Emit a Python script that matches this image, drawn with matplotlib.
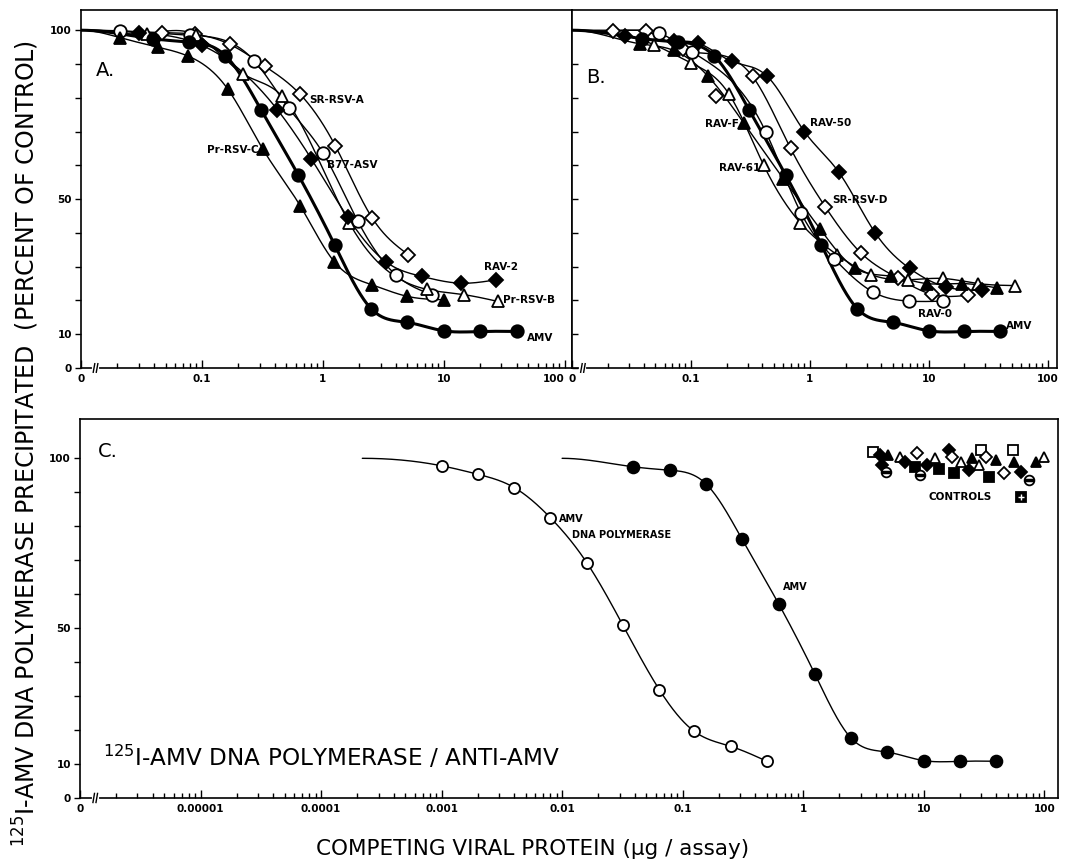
import numpy as np
import matplotlib
matplotlib.use("Agg")
import matplotlib.pyplot as plt
import matplotlib.transforms as mtransforms

plt.rcParams['font.family'] = ['DejaVu Sans']
plt.rcParams['mathtext.fontset'] = 'dejavusans'

# ---------------- values ----------------
plateau = 100
ab_curve_start = 0.01          # curves in A and B leave the y axis at 100 %

# AMV reference (same dilution series in all three panels)
amv_x = [0.039, 0.078, 0.156, 0.31, 0.625, 1.25, 2.5, 5, 10, 20, 40]
amv_y = [97.5, 96.5, 92.5, 76.3, 57.2, 36.5, 17.6, 13.5, 11.0, 10.8, 10.8]

# panel A
srrsva_x = [0.047, 0.087, 0.17, 0.33, 0.65, 1.27, 2.55, 5.1]
srrsva_y = [99.3, 98.8, 95.8, 89.4, 81.0, 65.7, 44.5, 33.5]
b77_x = [0.021, 0.08, 0.27, 0.52, 1.0, 1.95, 4.0, 8.0]
b77_y = [99.8, 98.5, 91.0, 77.0, 63.7, 43.4, 27.6, 21.7]
rav2_x = [0.03, 0.1, 0.42, 0.8, 1.6, 3.3, 6.6, 13.8, 27]
rav2_y = [99.3, 95.5, 76.5, 62.0, 44.7, 31.5, 27.1, 25.1, 26.1]
prrsvb_x = [0.035, 0.09, 0.22, 0.46, 1.65, 7.2, 14.7, 28]
prrsvb_y = [99.0, 98.5, 87.0, 80.5, 43.0, 23.3, 21.7, 19.7]
prrsvc_x = [0.021, 0.043, 0.076, 0.164, 0.32, 0.65, 1.24, 2.56, 5.0, 10]
prrsvc_y = [97.8, 95.0, 92.4, 82.5, 64.7, 48.0, 31.5, 24.6, 21.2, 20.2]

# panel B
rav50_x = [0.028, 0.072, 0.114, 0.22, 0.44, 0.9, 1.75, 3.55, 6.9, 13.9, 28]
rav50_y = [98.2, 96.7, 96.2, 90.8, 86.3, 70.0, 58.0, 40.0, 29.5, 24.0, 23.0]
srrsvd_x = [0.022, 0.042, 0.085, 0.162, 0.33, 0.69, 1.35, 2.7, 5.5, 10.6, 21.3]
srrsvd_y = [99.7, 99.7, 94.3, 80.4, 86.3, 65.0, 47.7, 34.0, 26.6, 21.8, 21.5]
srrsvd_off_curve = [3]         # point lying off the drawn curve
rav0_x = [0.054, 0.103, 0.425, 0.84, 1.6, 3.4, 6.8, 13.2]
rav0_y = [99.2, 93.5, 70.0, 46.0, 32.4, 22.5, 19.8, 19.8]
rav61_x = [0.049, 0.1, 0.21, 0.41, 0.83, 1.7, 3.3, 6.7, 13.2, 26, 53]
rav61_y = [95.7, 90.3, 81.0, 60.0, 43.0, 33.5, 27.6, 26.1, 26.5, 25.0, 24.4]
ravf_x = [0.037, 0.072, 0.14, 0.28, 0.6, 1.23, 2.4, 4.8, 9.6, 19, 37.5]
ravf_y = [96.0, 94.0, 86.3, 72.4, 56.0, 41.0, 29.6, 27.2, 25.0, 25.0, 23.7]

# panel C
pol_x = [0.001, 0.002, 0.004, 0.008, 0.016, 0.032, 0.064, 0.125, 0.25, 0.5]
pol_y = [97.8, 95.3, 91.4, 82.5, 69.3, 50.8, 31.9, 19.6, 15.2, 10.8]
pol_curve_start = 0.00022
amv_c_curve_start = 0.01

ctrl_x = [3.8, 4.35, 5.1, 4.5, 4.9, 6.4, 7.0, 8.8, 8.5, 9.4, 10.6, 12.5, 13.3,
          16.2, 17.2, 17.8, 20.2, 23.7, 25.3, 28.7, 29.6, 32.6, 34.8, 39.8,
          46.4, 54.6, 56.2, 64, 75, 100, 85]
ctrl_y = [101.9, 100.9, 101.0, 98.0, 96.0, 100.5, 99.0, 101.5, 97.5, 95.1, 98.0,
          100.0, 97.0, 102.4, 100.5, 95.6, 99.0, 96.6, 100.0, 98.0, 102.4, 100.5,
          94.6, 99.5, 95.6, 102.4, 99.0, 96.0, 93.6, 100.5, 99.0]
ctrl_kind = ['open_sq', 'fill_dia', 'fill_tri', 'fill_dia', 'open_circ_bar',
             'open_tri', 'fill_dia', 'open_dia', 'fill_sq', 'open_circ_bar',
             'fill_dia', 'open_tri', 'fill_sq', 'fill_dia', 'open_dia', 'fill_sq',
             'open_tri', 'fill_dia', 'fill_tri', 'open_tri', 'open_sq', 'open_dia',
             'fill_sq', 'fill_tri', 'open_dia', 'open_sq', 'fill_tri', 'fill_dia',
             'open_circ_bar', 'open_tri', 'fill_tri']
ctrl_key_x, ctrl_key_y = 64, 88.7


# ---------------- helpers ----------------
def spline(xk, yk, xq):
    # cubic spline, flat at the start (plateau), natural at the end
    xk = np.asarray(xk, float)
    yk = np.asarray(yk, float)
    n = len(xk)
    h = np.diff(xk)
    d = np.diff(yk) / h
    A = np.zeros((n, n))
    r = np.zeros(n)
    A[0, 0], A[0, 1], r[0] = 2 * h[0], h[0], 6 * d[0]
    for i in range(1, n - 1):
        A[i, i - 1], A[i, i], A[i, i + 1] = h[i - 1], 2 * (h[i - 1] + h[i]), h[i]
        r[i] = 6 * (d[i] - d[i - 1])
    A[-1, -1] = 1.0
    M = np.linalg.solve(A, r)
    i = np.clip(np.searchsorted(xk, xq) - 1, 0, n - 2)
    a, b = xk[i + 1] - xq, xq - xk[i]
    return (M[i] * a**3 / (6 * h[i]) + M[i + 1] * b**3 / (6 * h[i])
            + (yk[i] / h[i] - M[i] * h[i] / 6) * a
            + (yk[i + 1] / h[i] - M[i + 1] * h[i] / 6) * b)


def curve(ax, xs, ys, x0, lw=1.0, skip=()):
    kx = [x0] + [x for j, x in enumerate(xs) if j not in skip]
    ky = [plateau] + [y for j, y in enumerate(ys) if j not in skip]
    lx = np.log10(kx)
    q = np.linspace(lx[0], lx[-1], 500)
    ax.plot(10**q, np.minimum(spline(lx, ky, q), plateau), color='black', lw=lw,
            zorder=2, solid_capstyle='round')


STY = {
    'fill_circ': dict(marker='o', ms=9, mfc='black'),
    'open_circ': dict(marker='o', ms=9, mfc='white'),
    'fill_tri': dict(marker='^', ms=9, mfc='black'),
    'open_tri': dict(marker='^', ms=9, mfc='white'),
    'fill_dia': dict(marker='D', ms=7.5, mfc='black'),
    'open_dia': dict(marker='D', ms=7.5, mfc='white'),
    'fill_sq': dict(marker='s', ms=7, mfc='black'),
    'open_sq': dict(marker='s', ms=7, mfc='white'),
}


def pts(ax, xs, ys, kind, **kw):
    st = dict(STY[kind])
    st.update(kw)
    ax.plot(xs, ys, ls='none', mec='black', mew=1.3, zorder=3, clip_on=False, **st)


def axis_break(ax, xb):
    tr = mtransforms.blended_transform_factory(ax.transData, ax.transAxes)
    ax.plot([xb, xb * 1.06], [0, 0], color='white', lw=3, transform=tr,
            clip_on=False, zorder=5)
    for xx in (xb, xb * 1.06):
        ax.plot([xx / 1.015, xx * 1.015], [-0.012, 0.012], color='black', lw=1,
                transform=tr, clip_on=False, zorder=6)


def setup(ax, lo, hi, decades, dec_labels, ytop, left_ticks=True):
    ax.set_xscale('log')
    ax.set_xlim(lo, hi)
    ax.set_ylim(0, ytop)
    ax.set_xticks([lo] + decades, ['0'] + dec_labels)
    e0, e1 = int(np.floor(np.log10(lo))), int(np.ceil(np.log10(hi)))
    minors = [m * 10.0**e for e in range(e0, e1) for m in range(2, 10)
              if lo < m * 10.0**e < hi]
    ax.set_xticks(minors, minor=True)
    ax.set_xticklabels([], minor=True)
    ax.tick_params(axis='x', which='major', direction='in', length=5.5, width=1,
                   pad=4, labelsize=7.5)
    ax.tick_params(axis='x', which='minor', direction='in', length=3.5, width=1)
    ax.set_yticks(range(0, 101, 10),
                  ['0', '10', '', '', '', '50', '', '', '', '', '100'])
    if left_ticks:
        ax.tick_params(axis='y', direction='out', length=4.5, width=1, pad=2,
                       labelsize=7.5)
    else:
        ax.tick_params(axis='y', direction='in', length=4.5, width=1,
                       labelleft=False)
    for t in ax.get_xticklabels() + ax.get_yticklabels():
        t.set_fontweight('bold')
    for s in ax.spines.values():
        s.set_linewidth(1.2)


def label(ax, x, y, s, ha='left', size=7.5):
    ax.text(x, y, s, ha=ha, va='center', fontsize=size, fontweight='bold', zorder=4)


# ---------------- figure ----------------
fig = plt.figure(figsize=(10.65, 8.65), dpi=100)
axA = fig.add_axes([0.0761, 0.5746, 0.4610, 0.4139])
axB = fig.add_axes([0.5371, 0.5746, 0.4554, 0.4139])
axC = fig.add_axes([0.0751, 0.0775, 0.9183, 0.4382])

setup(axA, 0.01, 115, [0.1, 1, 10, 100], ['0.1', '1', '10', '100'], 106)
axA.get_xticklabels()[-1].set_ha('right')
setup(axB, 0.01, 120, [0.1, 1, 10, 100], ['0.1', '1', '10', '100'], 106,
      left_ticks=False)
setup(axC, 1e-6, 130, [1e-5, 1e-4, 1e-3, 1e-2, 0.1, 1, 10, 100],
      ['0.00001', '0.0001', '0.001', '0.01', '0.1', '1', '10', '100'], 111.6)

# panel A
curve(axA, srrsva_x, srrsva_y, ab_curve_start)
curve(axA, b77_x, b77_y, ab_curve_start)
curve(axA, rav2_x, rav2_y, ab_curve_start)
curve(axA, prrsvb_x, prrsvb_y, ab_curve_start)
curve(axA, prrsvc_x, prrsvc_y, ab_curve_start)
curve(axA, amv_x, amv_y, ab_curve_start, lw=2.2)
pts(axA, srrsva_x, srrsva_y, 'open_dia')
pts(axA, b77_x, b77_y, 'open_circ')
pts(axA, prrsvb_x, prrsvb_y, 'open_tri')
pts(axA, rav2_x, rav2_y, 'fill_dia')
pts(axA, prrsvc_x, prrsvc_y, 'fill_tri')
pts(axA, amv_x, amv_y, 'fill_circ')
label(axA, 0.77, 79.2, 'SR-RSV-A')
label(axA, 1.09, 60.0, 'B77-ASV')
label(axA, 0.295, 64.4, 'Pr-RSV-C', ha='right')
label(axA, 21.5, 29.8, 'RAV-2')
label(axA, 31.0, 20.2, 'Pr-RSV-B')
label(axA, 49.0, 9.0, 'AMV')
axA.text(0.03, 0.83, 'A.', transform=axA.transAxes, fontsize=14, va='center')

# panel B
curve(axB, rav50_x, rav50_y, ab_curve_start)
curve(axB, srrsvd_x, srrsvd_y, ab_curve_start, skip=srrsvd_off_curve)
curve(axB, rav0_x, rav0_y, ab_curve_start)
curve(axB, rav61_x, rav61_y, ab_curve_start)
curve(axB, ravf_x, ravf_y, ab_curve_start)
curve(axB, amv_x, amv_y, ab_curve_start, lw=2.2)
pts(axB, srrsvd_x, srrsvd_y, 'open_dia')
pts(axB, rav61_x, rav61_y, 'open_tri')
pts(axB, rav0_x, rav0_y, 'open_circ')
pts(axB, rav50_x, rav50_y, 'fill_dia')
pts(axB, ravf_x, ravf_y, 'fill_tri')
pts(axB, amv_x, amv_y, 'fill_circ')
label(axB, 1.01, 72.4, 'RAV-50')
label(axB, 0.255, 72.3, 'RAV-F', ha='right')
label(axB, 0.38, 59.3, 'RAV-61', ha='right')
label(axB, 1.54, 49.6, 'SR-RSV-D')
label(axB, 8.2, 16.0, 'RAV-0')
label(axB, 45.0, 12.5, 'AMV')
axB.text(0.03, 0.81, 'B.', transform=axB.transAxes, fontsize=14, va='center')

# panel C
curve(axC, pol_x, pol_y, pol_curve_start)
curve(axC, amv_x, amv_y, amv_c_curve_start)
pts(axC, pol_x, pol_y, 'open_circ', ms=8)
pts(axC, amv_x, amv_y, 'fill_circ', ms=8.5)
for x, y, k in zip(ctrl_x, ctrl_y, ctrl_kind):
    if k == 'open_circ_bar':
        pts(axC, [x], [y], 'open_circ', ms=7)
        axC.plot([x], [y], ls='none', marker='_', ms=7, mew=2.5, color='black', zorder=3)
    else:
        pts(axC, [x], [y], k, ms=6.5 if 'dia' in k else 7)
pts(axC, [ctrl_key_x], [ctrl_key_y], 'fill_sq', ms=7)
axC.plot([ctrl_key_x], [ctrl_key_y], ls='none', marker='+', ms=4, mew=1,
         color='white', zorder=4)
label(axC, 20, 88.6, 'CONTROLS', ha='center')
label(axC, 0.0095, 82.1, 'AMV', size=7)
label(axC, 0.0121, 77.5, 'DNA POLYMERASE', size=7)
label(axC, 0.68, 62.0, 'AMV', size=7)
axC.text(1.55e-6, 12, '$^{125}$I-AMV DNA POLYMERASE / ANTI-AMV', fontsize=16.7,
         va='center', ha='left')
axC.text(0.018, 0.915, 'C.', transform=axC.transAxes, fontsize=14, va='center')

for ax, xb in ((axA, 0.0128), (axB, 0.012), (axC, 1.3e-6)):
    axis_break(ax, xb)

fig.text(0.5, 0.018, 'COMPETING VIRAL PROTEIN (µg / assay)', ha='center',
         va='center', fontsize=15.5)
fig.text(0.024, 0.487,
         '$^{125}$I-AMV DNA POLYMERASE PRECIPITATED  (PERCENT OF CONTROL)',
         rotation=90, ha='center', va='center', fontsize=17)

fig.savefig('out.png', dpi=100)
